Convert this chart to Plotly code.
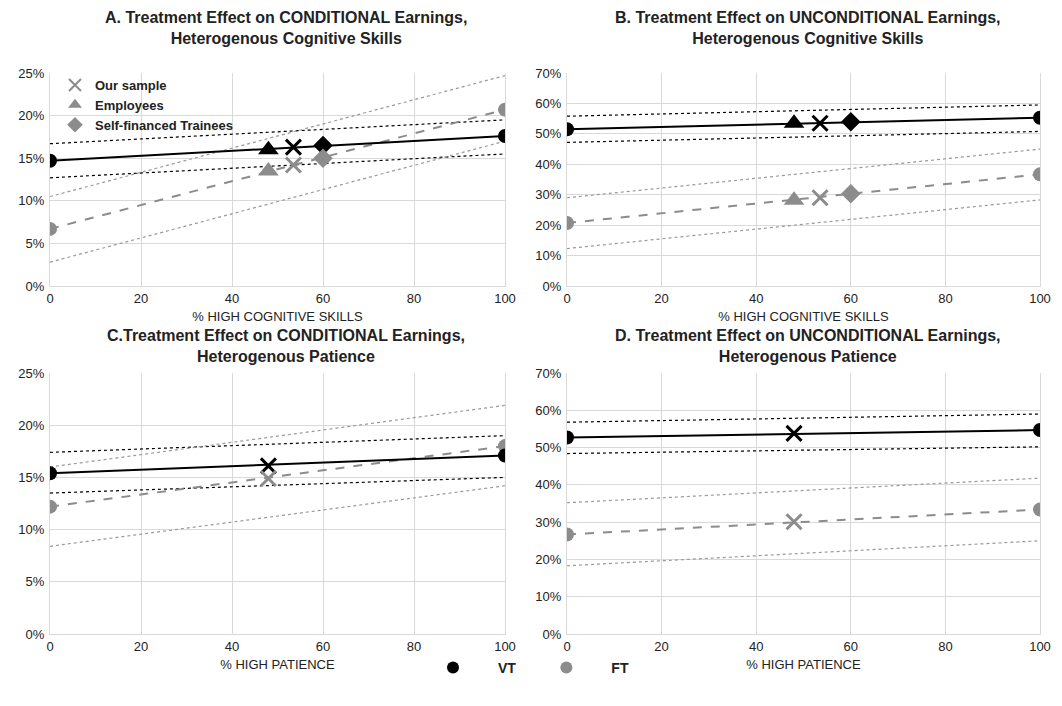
import plotly.graph_objects as go
from plotly.subplots import make_subplots

# x positions
x_ends = [0, 100]
x_emp, x_our, x_self = 48, 53.5, 60

# panel A (conditional, cognitive)
a_vt = [14.7, 17.6]; a_vt_hi = [16.7, 19.5]; a_vt_lo = [12.7, 15.5]
a_ft = [6.7, 20.7]; a_ft_hi = [10.5, 24.7]; a_ft_lo = [2.8, 17.0]
a_vt_pts = [16.0, 16.3, 16.5]  # employees, our sample, self-financed
a_ft_pts = [13.5, 14.2, 15.0]

# panel B (unconditional, cognitive)
b_vt = [51.5, 55.3]; b_vt_hi = [55.8, 59.5]; b_vt_lo = [47.2, 50.8]
b_ft = [20.7, 36.7]; b_ft_hi = [29.0, 45.0]; b_ft_lo = [12.3, 28.3]
b_vt_pts = [53.5, 53.5, 54.0]
b_ft_pts = [28.2, 29.0, 30.3]

# panel C (conditional, patience)
c_vt = [15.4, 17.1]; c_vt_hi = [17.4, 19.0]; c_vt_lo = [13.5, 15.0]
c_ft = [12.2, 18.0]; c_ft_hi = [16.0, 21.9]; c_ft_lo = [8.4, 14.2]
c_our = [16.1, 14.9]
x_our_pat = 48

# panel D (unconditional, patience)
d_vt = [52.7, 54.7]; d_vt_hi = [56.8, 59.0]; d_vt_lo = [48.4, 50.2]
d_ft = [26.7, 33.4]; d_ft_hi = [35.2, 41.8]; d_ft_lo = [18.3, 25.0]
d_our = [53.8, 30.1]

titles = ["<b>A. Treatment Effect on CONDITIONAL Earnings,<br>Heterogenous Cognitive Skills</b>",
          "<b>B. Treatment Effect on UNCONDITIONAL Earnings,<br>Heterogenous Cognitive Skills</b>",
          "<b>C.Treatment Effect on CONDITIONAL Earnings,<br>Heterogenous Patience</b>",
          "<b>D. Treatment Effect on UNCONDITIONAL Earnings,<br>Heterogenous Patience</b>"]

BLACK = "black"
GRAY = "#8c8c8c"

fig = make_subplots(rows=2, cols=2)


def add_panel(r, c, vt, vt_hi, vt_lo, ft, ft_hi, ft_lo):
    for ys, col in [(vt_hi, BLACK), (vt_lo, BLACK), (ft_hi, "#999999"), (ft_lo, "#999999")]:
        fig.add_trace(go.Scatter(x=x_ends, y=ys, mode="lines", showlegend=False,
                                 line=dict(color=col, width=1.2, dash="dot")), row=r, col=c)
    fig.add_trace(go.Scatter(x=x_ends, y=ft, mode="lines+markers", showlegend=False,
                             line=dict(color=GRAY, width=2, dash="dash"),
                             marker=dict(color=GRAY, size=14)), row=r, col=c)
    fig.add_trace(go.Scatter(x=x_ends, y=vt, mode="lines+markers", showlegend=False,
                             line=dict(color=BLACK, width=2),
                             marker=dict(color=BLACK, size=14)), row=r, col=c)


def add_points(r, c, xs, ys, col, symbols):
    widths = [3 if s == "x-thin" else 0 for s in symbols]
    sizes = [18 if s == "triangle-up" else 15 for s in symbols]
    fig.add_trace(go.Scatter(x=xs, y=ys, mode="markers", showlegend=False,
                             marker=dict(color=col, size=sizes, symbol=symbols, opacity=1,
                                         line=dict(color=col, width=widths))),
                  row=r, col=c)


sym3 = ["triangle-up", "x-thin", "diamond"]
add_panel(1, 1, a_vt, a_vt_hi, a_vt_lo, a_ft, a_ft_hi, a_ft_lo)
add_points(1, 1, [x_emp, x_our, x_self], a_vt_pts, BLACK, sym3)
add_points(1, 1, [x_emp, x_our, x_self], a_ft_pts, GRAY, sym3)

add_panel(1, 2, b_vt, b_vt_hi, b_vt_lo, b_ft, b_ft_hi, b_ft_lo)
add_points(1, 2, [x_emp, x_our, x_self], b_vt_pts, BLACK, sym3)
add_points(1, 2, [x_emp, x_our, x_self], b_ft_pts, GRAY, sym3)

add_panel(2, 1, c_vt, c_vt_hi, c_vt_lo, c_ft, c_ft_hi, c_ft_lo)
add_points(2, 1, [x_our_pat], [c_our[0]], BLACK, ["x-thin"])
add_points(2, 1, [x_our_pat], [c_our[1]], GRAY, ["x-thin"])

add_panel(2, 2, d_vt, d_vt_hi, d_vt_lo, d_ft, d_ft_hi, d_ft_lo)
add_points(2, 2, [x_our_pat], [d_our[0]], BLACK, ["x-thin"])
add_points(2, 2, [x_our_pat], [d_our[1]], GRAY, ["x-thin"])

# inner legend (panel A)
for name, sym in [("Our sample", "x-thin"), ("Employees", "triangle-up"), ("Self-financed Trainees", "diamond")]:
    fig.add_trace(go.Scatter(x=[None], y=[None], mode="markers", name="<b>%s</b>" % name, legend="legend2",
                             marker=dict(color=GRAY, symbol=sym, size=13,
                                         line=dict(color=GRAY, width=3 if sym == "x-thin" else 0))),
                  row=1, col=1)
# bottom legend
for name, col in [("VT", BLACK), ("FT", GRAY)]:
    fig.add_trace(go.Scatter(x=[None], y=[None], mode="markers", name="<b>%s</b>" % name,
                             marker=dict(color=col, size=12)), row=1, col=1)

W, H = 1062, 706
OFF = 8  # page body margin
def fx(p): return (p - OFF) / W
def fy(p): return 1 - (p - OFF) / H

fig.update_layout(
    xaxis=dict(domain=[fx(50), fx(505)]), yaxis=dict(domain=[fy(286), fy(73)]),
    xaxis2=dict(domain=[fx(567), fx(1040)]), yaxis2=dict(domain=[fy(286), fy(73)]),
    xaxis3=dict(domain=[fx(50), fx(505)]), yaxis3=dict(domain=[fy(634), fy(373)]),
    xaxis4=dict(domain=[fx(567), fx(1040)]), yaxis4=dict(domain=[fy(634), fy(373)]),
)

xtitles = ["% HIGH COGNITIVE SKILLS", "% HIGH COGNITIVE SKILLS", "% HIGH PATIENCE", "% HIGH PATIENCE"]
for i in range(4):
    r, c = i // 2 + 1, i % 2 + 1
    fig.update_xaxes(range=[0, 100], dtick=20, showgrid=True, gridcolor="#d9d9d9", zeroline=False,
                     showline=True, linecolor="#d9d9d9", automargin=False,
                     title=dict(text=xtitles[i], font=dict(size=13), standoff=7),
                     tickfont=dict(size=13), row=r, col=c)
    ymax = 25 if c == 1 else 70
    fig.update_yaxes(range=[0, ymax], dtick=5 if c == 1 else 10, ticksuffix="%", showgrid=True,
                     gridcolor="#d9d9d9", zeroline=False, showline=True, mirror=True, linecolor="#d9d9d9",
                     ticks="outside", ticklen=2, tickcolor="white", automargin=False,
                     tickfont=dict(size=13), row=r, col=c)

for i, t in enumerate(titles):
    xc = [fx(286), fx(808)][i % 2]
    yc = [fy(28), fy(346)][i // 2]
    fig.add_annotation(text=t, x=xc, y=yc, xref="paper", yref="paper", showarrow=False,
                       font=dict(size=16, color="#222"), xanchor="center", yanchor="middle")

fig.update_layout(
    width=W, height=H, plot_bgcolor="white", paper_bgcolor="white",
    margin=dict(l=0, r=0, t=0, b=0),
    font=dict(family="Liberation Sans, Arial, sans-serif", color="#222"),
    legend=dict(orientation="h", x=fx(521), xanchor="center", y=fy(668), yanchor="middle",
                font=dict(size=14), itemwidth=80, bgcolor="rgba(0,0,0,0)"),
    legend2=dict(x=fx(55), y=fy(70), xanchor="left", yanchor="top", font=dict(size=13),
                 bgcolor="rgba(0,0,0,0)", tracegroupgap=0, itemsizing="constant"),
)

fig.write_html("out.html")
